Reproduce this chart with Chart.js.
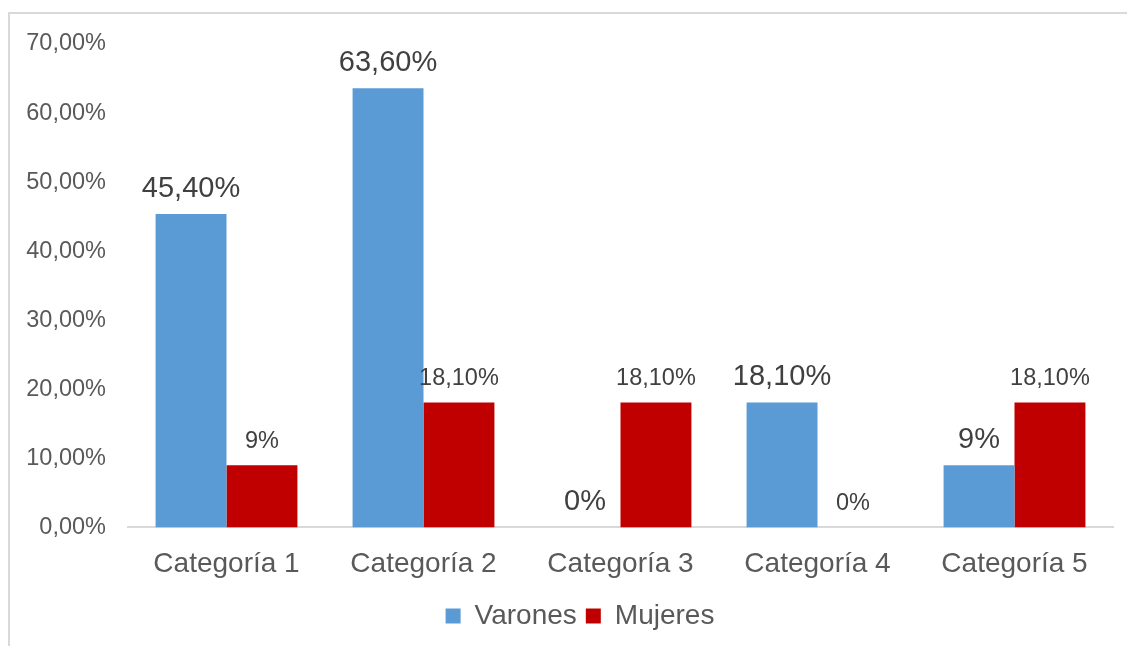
<!DOCTYPE html>
<html lang="es">
<head>
<meta charset="UTF-8">
<title>Varones y Mujeres por categoría</title>
<script src="https://cdn.jsdelivr.net/npm/chart.js"></script>
<style>
  html, body { margin: 0; padding: 0; background: #fff; }
  #wrap { width: 1129px; height: 646px; }
</style>
</head>
<body>
<div id="wrap"><canvas id="myChart" width="1129" height="646"></canvas></div>
<script>
const categories = ['Categoría 1', 'Categoría 2', 'Categoría 3', 'Categoría 4', 'Categoría 5'];
const varones = [45.4, 63.6, 0, 18.1, 9];
const mujeres = [9, 18.1, 18.1, 0, 18.1];
const varonesLabels = ['45,40%', '63,60%', '0%', '18,10%', '9%'];
const mujeresLabels = ['9%', '18,10%', '18,10%', '0%', '18,10%'];
const yTicks = ['0,00%', '10,00%', '20,00%', '30,00%', '40,00%', '50,00%', '60,00%', '70,00%'];

const FONT = '"Liberation Sans", Arial, sans-serif';

// border lines of the chart box, left and top
const frame = {
    id: 'frame',
    beforeDraw(chart) {
        const c = chart.ctx;
        c.save();
        c.strokeStyle = '#d9d9d9';
        c.lineWidth = 2;
        c.beginPath();
        c.moveTo(9, 646);
        c.lineTo(9, 13);
        c.lineTo(1127, 13);
        c.stroke();
        c.restore();
    }
};

// the legend sits a bit right of the canvas centre in the original
const legendShift = {
    id: 'legendShift',
    afterLayout(chart) {
        if (chart.legend) chart.legend.left += 47;
    }
};

// value labels above each bar
const valueLabels = {
    id: 'valueLabels',
    afterDatasetsDraw(chart) {
        const c = chart.ctx;
        const sets = [
            { labels: varonesLabels, size: 29, gap: 17 },
            { labels: mujeresLabels, size: 23.5, gap: 17 }
        ];
        c.save();
        c.fillStyle = '#404040';
        c.textAlign = 'center';
        c.textBaseline = 'alphabetic';
        sets.forEach((s, i) => {
            c.font = s.size + 'px ' + FONT;
            chart.getDatasetMeta(i).data.forEach((bar, j) => {
                c.fillText(s.labels[j], bar.x, bar.y - s.gap);
            });
        });
        c.restore();
    }
};

const ctx = document.getElementById('myChart').getContext('2d');
new Chart(ctx, {
    type: 'bar',
    data: {
        labels: categories,
        datasets: [
            { label: 'Varones', data: varones, backgroundColor: '#5b9bd5' },
            { label: 'Mujeres', data: mujeres, backgroundColor: '#c00000' }
        ]
    },
    options: {
        responsive: false,
        animation: false,
        layout: { padding: { top: 44, right: 16, left: 0, bottom: 6 } },
        datasets: { bar: { barPercentage: 1, categoryPercentage: 0.72 } },
        scales: {
            x: {
                grid: { display: false },
                border: { display: true, color: '#d9d9d9', width: 2 },
                ticks: { color: '#595959', font: { family: FONT, size: 28 }, padding: 12 }
            },
            y: {
                min: 0,
                max: 70,
                grid: { display: false, drawTicks: false },
                border: { display: false },
                afterFit(scale) { scale.width = 128; },
                ticks: {
                    stepSize: 10,
                    color: '#595959',
                    font: { family: FONT, size: 23.5 },
                    padding: 22,
                    callback: (v) => yTicks[Math.round(v / 10)]
                }
            }
        },
        plugins: {
            legend: {
                position: 'bottom',
                labels: {
                    color: '#595959',
                    font: { family: FONT, size: 28 },
                    boxWidth: 15,
                    boxHeight: 15,
                    padding: 9
                }
            },
            tooltip: { enabled: false }
        }
    },
    plugins: [frame, legendShift, valueLabels]
});
</script>
</body>
</html>
